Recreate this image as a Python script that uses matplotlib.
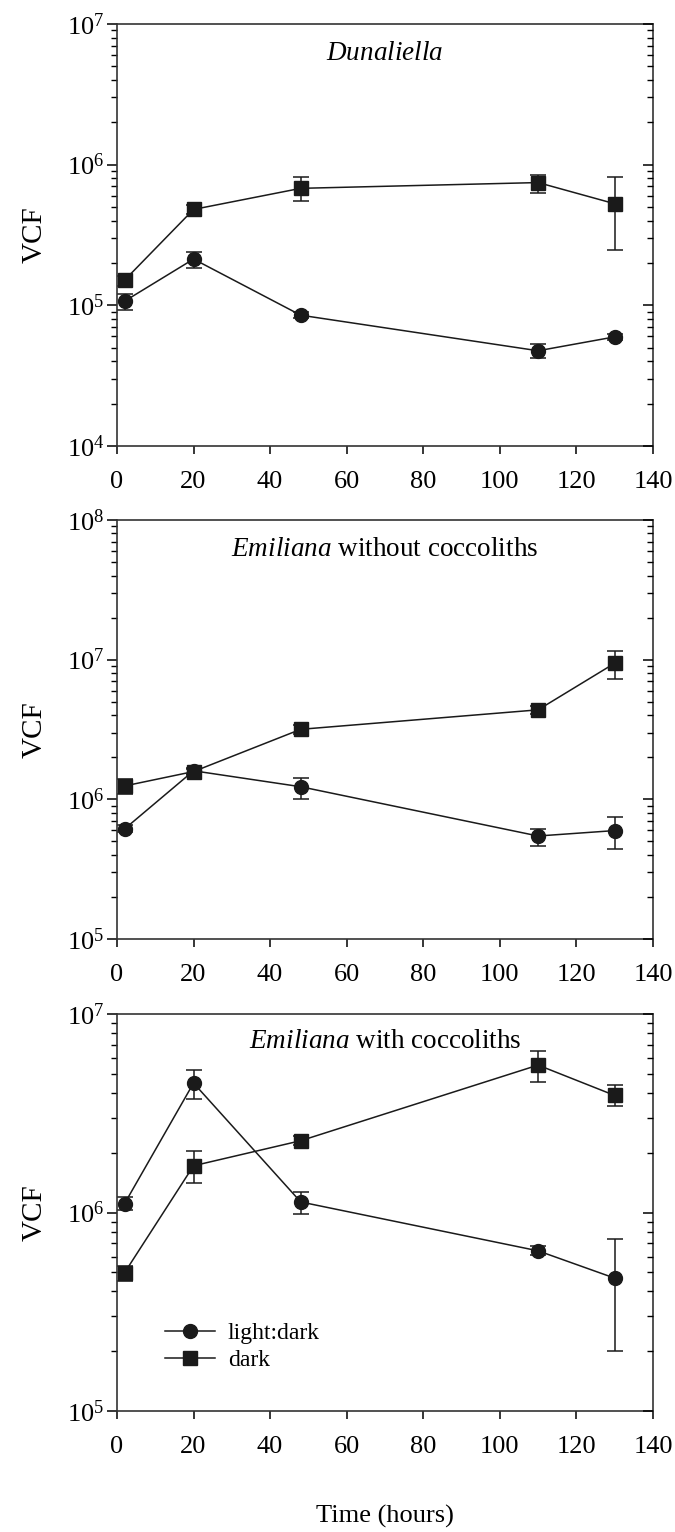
import numpy as np
import matplotlib
matplotlib.use("Agg")
import matplotlib.pyplot as plt
from matplotlib.lines import Line2D
from matplotlib.ticker import LogLocator, NullFormatter, FuncFormatter

plt.rcParams['font.family'] = ['Liberation Serif', 'DejaVu Serif']
plt.rcParams['mathtext.fontset'] = 'custom'
plt.rcParams['mathtext.rm'] = 'Liberation Serif'
plt.rcParams['mathtext.it'] = 'Liberation Serif:italic'

# sampling times (hours)
hours = [2, 20, 48, 110, 130]

# Dunaliella
dun_ld = [1.07e5, 2.13e5, 8.5e4, 4.75e4, 5.96e4]
dun_ld_lo = [9.3e4, 1.85e5, 8.1e4, 4.22e4, 5.7e4]
dun_ld_hi = [1.2e5, 2.38e5, 8.9e4, 5.28e4, 6.2e4]
dun_dk = [1.51e5, 4.8e5, 6.78e5, 7.45e5, 5.27e5]
dun_dk_lo = [1.38e5, 4.45e5, 5.5e5, 6.3e5, 2.47e5]
dun_dk_hi = [1.62e5, 5.15e5, 8.2e5, 8.5e5, 8.2e5]

# Emiliana without coccoliths
emn_ld = [6.14e5, 1.6e6, 1.23e6, 5.46e5, 5.97e5]
emn_ld_lo = [5.8e5, 1.52e6, 1.01e6, 4.66e5, 4.4e5]
emn_ld_hi = [6.5e5, 1.68e6, 1.43e6, 6.14e5, 7.48e5]
emn_dk = [1.246e6, 1.58e6, 3.17e6, 4.37e6, 9.42e6]
emn_dk_lo = [1.1e6, 1.5e6, 2.95e6, 4.1e6, 7.3e6]
emn_dk_hi = [1.4e6, 1.66e6, 3.4e6, 4.65e6, 1.15e7]

# Emiliana with coccoliths
emc_ld = [1.11e6, 4.49e6, 1.13e6, 6.41e5, 4.67e5]
emc_ld_lo = [1.03e6, 3.72e6, 9.85e5, 6.1e5, 2.01e5]
emc_ld_hi = [1.2e6, 5.2e6, 1.27e6, 6.75e5, 7.35e5]
emc_dk = [4.98e5, 1.72e6, 2.3e6, 5.53e6, 3.89e6]
emc_dk_lo = [4.54e5, 1.41e6, 2.18e6, 4.54e6, 3.46e6]
emc_dk_hi = [5.4e5, 2.05e6, 2.42e6, 6.5e6, 4.39e6]

panels = [
    (dun_ld, dun_ld_lo, dun_ld_hi, dun_dk, dun_dk_lo, dun_dk_hi, (1e4, 1e7),
     r'$\mathit{Dunaliella}$'),
    (emn_ld, emn_ld_lo, emn_ld_hi, emn_dk, emn_dk_lo, emn_dk_hi, (1e5, 1e8),
     r'$\mathit{Emiliana}$ without coccoliths'),
    (emc_ld, emc_ld_lo, emc_ld_hi, emc_dk, emc_dk_lo, emc_dk_hi, (1e5, 1e7),
     r'$\mathit{Emiliana}$ with coccoliths'),
]

# axes boxes in figure fraction: left, bottom, width, height
boxes = [
    [0.1733, 0.7089, 0.794, 0.2755],
    [0.1733, 0.3871, 0.794, 0.2735],
    [0.1733, 0.0790, 0.794, 0.2591],
]

fig = plt.figure(figsize=(6.75, 15.32), dpi=100)
ink = '#1a1a1a'

def pow10(v, pos):
    return r'$10^{%d}$' % int(round(np.log10(v)))

for (ld, ld_lo, ld_hi, dk, dk_lo, dk_hi, ylim, title), box in zip(panels, boxes):
    ax = fig.add_axes(box)
    ld = np.array(ld)
    dk = np.array(dk)
    ld_err = [ld - np.array(ld_lo), np.array(ld_hi) - ld]
    dk_err = [dk - np.array(dk_lo), np.array(dk_hi) - dk]

    ax.errorbar(hours, ld, yerr=ld_err, color=ink, marker='o', ms=10,
                lw=1.1, elinewidth=1.1, capsize=6, capthick=1.1)
    ax.errorbar(hours, dk, yerr=dk_err, color=ink, marker='s', ms=9.5,
                lw=1.1, elinewidth=1.1, capsize=6, capthick=1.1)

    ax.set_yscale('log')
    ax.set_ylim(*ylim)
    ax.set_xlim(0, 140)
    ax.set_xticks(range(0, 141, 20))
    ax.yaxis.set_major_locator(LogLocator(base=10, numticks=10))
    ax.yaxis.set_minor_locator(LogLocator(base=10, subs=np.arange(2, 10), numticks=10))
    ax.yaxis.set_major_formatter(FuncFormatter(pow10))
    ax.yaxis.set_minor_formatter(NullFormatter())
    ax.tick_params(axis='y', which='major', direction='out', length=7, width=1.1,
                   labelsize=19, pad=2)
    ax.tick_params(axis='y', which='minor', direction='out', length=4, width=1.0)
    ax.tick_params(axis='x', which='major', direction='out', length=6, width=1.1,
                   labelsize=19, pad=12)
    ax.tick_params(axis='x', which='minor', bottom=False)
    for sp in ax.spines.values():
        sp.set_linewidth(1.2)
        sp.set_color('#333333')

    # right-hand ticks point inward
    rx = ax.twinx()
    rx.set_yscale('log')
    rx.set_ylim(*ylim)
    rx.yaxis.set_major_locator(LogLocator(base=10, numticks=10))
    rx.yaxis.set_minor_locator(LogLocator(base=10, subs=np.arange(2, 10), numticks=10))
    rx.yaxis.set_major_formatter(NullFormatter())
    rx.yaxis.set_minor_formatter(NullFormatter())
    rx.tick_params(axis='y', which='major', direction='in', length=7, width=1.1)
    rx.tick_params(axis='y', which='minor', direction='in', length=4, width=1.0)
    for sp in rx.spines.values():
        sp.set_visible(False)

    ax.set_ylabel('VCF', fontsize=21, labelpad=14)
    ax.text(0.5, 0.93, title, transform=ax.transAxes, ha='center', va='center',
            fontsize=19.5)

ax.set_xlabel('Time (hours)', fontsize=19, labelpad=34)
handles = [
    Line2D([], [], color=ink, marker='o', ms=10, lw=1.1, label='light:dark'),
    Line2D([], [], color=ink, marker='s', ms=9.5, lw=1.1, label='dark'),
]
ax.legend(handles=handles, loc='lower left', bbox_to_anchor=(0.09, 0.10),
          frameon=False, fontsize=17, borderpad=0, borderaxespad=0,
          handlelength=2.1, handletextpad=0.55, labelspacing=0.25)

fig.savefig('out.png', dpi=100)
